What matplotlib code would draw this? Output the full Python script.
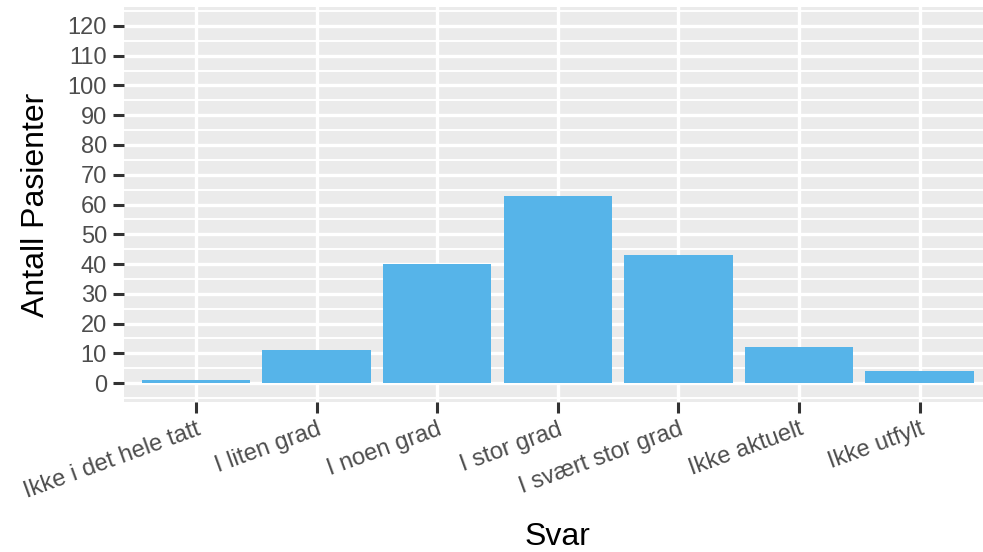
import numpy as np
import matplotlib.pyplot as plt

plt.rcParams['font.family'] = ['Liberation Sans', 'DejaVu Sans']

svar = ["Ikke i det hele tatt", "I liten grad", "I noen grad", "I stor grad",
        "I svært stor grad", "Ikke aktuelt", "Ikke utfylt"]
antall = [1, 11, 40, 63, 43, 12, 4]
y_ticks = list(range(0, 121, 10))

fig = plt.figure(figsize=(9.83, 5.52), dpi=100)
# panel runs off the right edge like in the original
ax = fig.add_axes([0.1257, 0.272, 0.8835, 0.715])

x = np.arange(1, len(svar) + 1)
ax.set_facecolor("#EBEBEB")
ax.bar(x, antall, width=0.9, color="#56B4E9", zorder=3)

ax.set_xlim(0.4, len(svar) + 0.6)
ax.set_ylim(-6.3, 126.3)
ax.set_yticks(y_ticks)
ax.set_yticks(np.arange(-5, 126, 10), minor=True)
ax.set_xticks(x)
ax.set_xticklabels(svar, rotation=20, ha="right", rotation_mode="anchor")

ax.grid(True, which="major", color="white", linewidth=2.4, zorder=1)
ax.grid(True, which="minor", axis="y", color="white", linewidth=1.4, zorder=1)
ax.set_axisbelow(True)

for s in ax.spines.values():
    s.set_visible(False)

ax.tick_params(axis="both", which="major", length=8, width=2.2, color="#333333",
               labelcolor="#4D4D4D", labelsize=17, pad=4)
ax.tick_params(axis="y", which="minor", length=0)

ax.set_ylabel("Antall Pasienter", fontsize=23, color="black", labelpad=12)
ax.set_xlabel("Svar", fontsize=23, color="black", labelpad=14)

fig.savefig("out.png", dpi=100)
